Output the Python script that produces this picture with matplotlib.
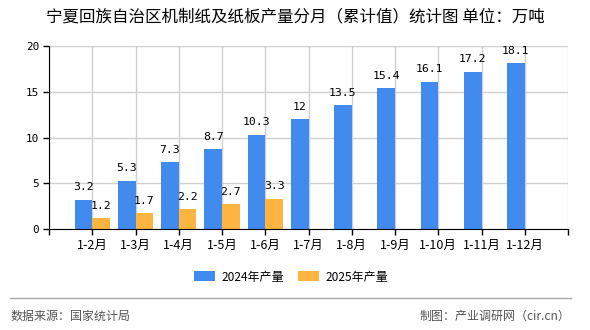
import numpy as np
import matplotlib
matplotlib.use('Agg')
import matplotlib.pyplot as plt

plt.rcParams['font.family'] = ['Noto Sans CJK SC', 'DejaVu Sans']

# data
months = ['1-2月', '1-3月', '1-4月', '1-5月', '1-6月', '1-7月', '1-8月',
          '1-9月', '1-10月', '1-11月', '1-12月']
val_2024 = [3.2, 5.3, 7.3, 8.7, 10.3, 12, 13.5, 15.4, 16.1, 17.2, 18.1]
val_2025 = [1.2, 1.7, 2.2, 2.7, 3.3]
yticks = [0, 5, 10, 15, 20]

blue = '#418BEE'
orange = '#FDB441'
px = 72 / 100.0  # points per pixel at dpi 100

fig = plt.figure(figsize=(5.9, 3.3), dpi=100)
ax = fig.add_axes([49 / 590, 1 - 229 / 330, (568 - 49) / 590, (229 - 46) / 330])

x = np.arange(1, len(months) + 1)
w = 0.41
ax.bar(x - w / 2, val_2024, width=w, color=blue, label='2024年产量', zorder=3)
ax.bar(x[:len(val_2025)] + w / 2, val_2025, width=w, color=orange, label='2025年产量', zorder=3)

# value labels above bars
numfont = {'family': 'DejaVu Sans Mono', 'size': 11.5 * px}
for xi, v in zip(x, val_2024):
    ax.text(xi - w / 2, v + 0.8, '%g' % v, ha='center', va='bottom', fontdict=numfont, zorder=4)
for xi, v in zip(x, val_2025):
    ax.text(xi + w / 2, v + 0.8, '%g' % v, ha='center', va='bottom', fontdict=numfont, zorder=4)

ax.set_xlim(0, 12)
ax.set_ylim(0, 20)
ax.set_yticks(yticks)
ax.set_yticklabels([str(t) for t in yticks], fontsize=11 * px, family='DejaVu Sans Mono')
ax.set_xticks(np.arange(0, 13))
ax.set_xticklabels([''] + months + [''], fontsize=12.5 * px)
ax.tick_params(axis='x', length=4, width=1, color='black', pad=3)
ax.tick_params(axis='y', length=4, width=1, color='black', pad=3)

ax.grid(True, color='#D0D0D0', linewidth=1, zorder=0)
ax.spines['top'].set_visible(False)
ax.spines['right'].set_visible(False)
ax.spines['left'].set_color('black')
ax.spines['bottom'].set_color('black')
ax.spines['bottom'].set_zorder(5)

fig.text(295 / 590, 1 - 17 / 330, '宁夏回族自治区机制纸及纸板产量分月（累计值）统计图 单位：万吨',
         ha='center', va='center', fontsize=16.5 * px)

leg = fig.legend(loc='center', bbox_to_anchor=(291 / 590, 1 - 277 / 330), ncol=2,
                 frameon=False, fontsize=12 * px, handlelength=1.75, handleheight=0.9,
                 columnspacing=1.2, handletextpad=0.5)

fig.add_artist(plt.Line2D([10 / 590, 571 / 590], [1 - 298 / 330, 1 - 298 / 330],
                          color='#AAAAAA', linewidth=1, transform=fig.transFigure))
fig.text(11 / 590, 1 - 316 / 330, '数据来源：国家统计局', ha='left', va='center',
         fontsize=12 * px, color='#555555')
fig.text(570 / 590, 1 - 316 / 330, '制图：产业调研网（cir.cn）', ha='right', va='center',
         fontsize=12 * px, color='#555555')

fig.savefig('out.png', dpi=100)
